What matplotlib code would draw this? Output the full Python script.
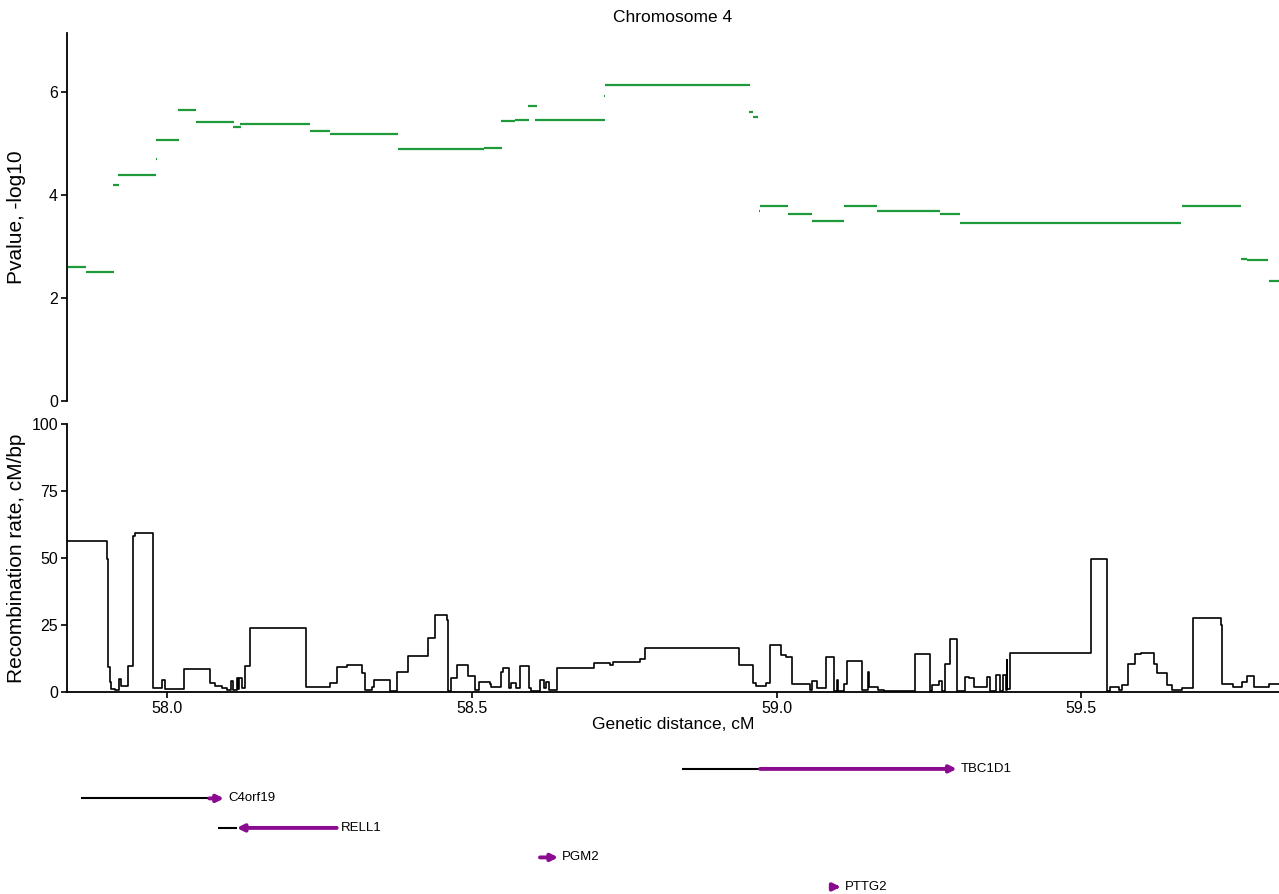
import matplotlib
matplotlib.use("Agg")
import matplotlib.pyplot as plt
import numpy as np

plt.rcParams['font.family'] = ['Liberation Sans', 'DejaVu Sans']

# ---------------- data ----------------
chrom_title = "Chromosome 4"
x_range = (57.835, 59.825)
x_ticks = [58.0, 58.5, 59.0, 59.5]
p_ticks = [0, 2, 4, 6]
rate_ticks = [0, 25, 50, 75, 100]

# association signal: -log10 p-value blocks (start cM, end cM, value)
pv_start = [57.837, 57.866, 57.911, 57.919, 57.981, 57.981, 58.018, 58.047, 58.108,
            58.119, 58.234, 58.267, 58.378, 58.519, 58.547, 58.571, 58.592, 58.604,
            58.7175, 58.718, 58.955, 58.961, 58.9675, 58.9715, 58.973, 59.018, 59.058,
            59.110, 59.165, 59.269, 59.302, 59.6635, 59.665, 59.762, 59.773, 59.8065,
            59.808]
pv_end = [57.866, 57.912, 57.920, 57.981, 57.9825, 58.019, 58.047, 58.109, 58.120,
          58.234, 58.267, 58.378, 58.519, 58.549, 58.571, 58.594, 58.606, 58.718,
          58.719, 58.956, 58.962, 58.969, 58.9685, 58.9725, 59.018, 59.058, 59.111,
          59.165, 59.269, 59.302, 59.664, 59.6645, 59.762, 59.773, 59.807, 59.8075,
          59.83]
pv_value = [2.60, 2.50, 4.19, 4.39, 4.69, 5.06, 5.64, 5.41, 5.31, 5.38, 5.23, 5.17,
            4.88, 4.91, 5.43, 5.46, 5.72, 5.46, 5.92, 6.13, 5.61, 5.51, 5.43, 3.68,
            3.79, 3.63, 3.48, 3.79, 3.68, 3.62, 3.46, 3.57, 3.79, 2.75, 2.73, 2.52,
            2.32]

# recombination rate map: step starts (cM) and rate from that point on
rec_pos = [57.835, 57.900, 57.902, 57.905, 57.908, 57.914, 57.920, 57.923, 57.935,
           57.944, 57.947, 57.977, 57.991, 57.996, 58.027, 58.069, 58.078, 58.089,
           58.097, 58.104, 58.107, 58.114, 58.116, 58.117, 58.122, 58.127, 58.135,
           58.227, 58.267, 58.278, 58.294, 58.319, 58.324, 58.335, 58.339, 58.365,
           58.377, 58.395, 58.428, 58.439, 58.459, 58.461, 58.466, 58.475, 58.493,
           58.505, 58.511, 58.529, 58.531, 58.547, 58.551, 58.561, 58.564, 58.573,
           58.578, 58.593, 58.597, 58.611, 58.619, 58.621, 58.627, 58.640, 58.700,
           58.726, 58.731, 58.775, 58.784, 58.939, 58.962, 58.966, 58.983, 58.989,
           59.007, 59.015, 59.025, 59.055, 59.059, 59.066, 59.081, 59.095, 59.099,
           59.101, 59.110, 59.115, 59.140, 59.150, 59.151, 59.166, 59.177, 59.228,
           59.252, 59.256, 59.267, 59.271, 59.276, 59.284, 59.297, 59.309, 59.316,
           59.324, 59.346, 59.351, 59.361, 59.367, 59.372, 59.376, 59.378, 59.379,
           59.383, 59.516, 59.543, 59.548, 59.562, 59.567, 59.577, 59.588, 59.598,
           59.619, 59.624, 59.641, 59.650, 59.666, 59.684, 59.729, 59.732, 59.750,
           59.765, 59.773, 59.784, 59.808]
rec_rate = [56.2, 49.6, 9.3, 3.5, 1.0, 0.8, 4.7, 2.0, 9.6,
            58.3, 59.3, 1.4, 4.4, 0.9, 8.6, 3.1, 2.0, 1.2,
            0.5, 4.0, 0.5, 5.0, 1.0, 5.0, 1.5, 9.6, 23.8,
            1.6, 3.4, 9.3, 10.0, 6.8, 0.6, 1.9, 4.4, 0.3,
            7.4, 13.3, 19.9, 28.5, 26.7, 0.2, 5.0, 9.9, 5.8,
            0.6, 3.7, 2.9, 1.6, 7.4, 8.7, 1.2, 3.1, 1.2,
            9.6, 1.4, 0.4, 4.4, 1.5, 3.7, 0.5, 8.9, 10.6,
            10.0, 11.2, 12.4, 16.5, 9.8, 3.1, 2.2, 3.1, 17.4,
            13.7, 13.0, 2.9, 0.6, 4.1, 1.2, 12.8, 0.4, 4.4,
            0.2, 2.9, 11.5, 0.5, 7.4, 1.9, 0.6, 0.2, 14.0,
            0.2, 2.5, 4.1, 0.2, 10.3, 19.7, 0.2, 5.6, 5.0,
            1.9, 5.6, 0.2, 6.2, 0.2, 6.2, 0.8, 12.0, 1.0,
            14.3, 49.5, 0.2, 1.9, 0.6, 2.5, 10.3, 13.9, 14.3,
            10.3, 6.8, 2.5, 0.6, 1.5, 27.7, 24.8, 2.9, 1.9,
            3.7, 5.8, 1.9, 2.9]

# gene models (cM): transcript start, coding start/end, strand
gene_names = ["TBC1D1", "C4orf19", "RELL1", "PGM2", "PTTG2"]
gene_tx_start = [58.845, 57.8575, 58.0834, 58.6116, 59.0931]
gene_cds_start = [58.973, 58.0686, 58.1136, 58.6116, 59.0931]
gene_cds_end = [59.296, 58.0928, 58.2778, 58.6416, 59.1053]
gene_strand = ["+", "+", "-", "+", "+"]

# ---------------- styling ----------------
GREEN = "#1e9a3a"
PURPLE = "#8a0a90"
TICK_FS = 11.5
LABEL_FS = 12.5

W, H = 1279, 894
fig = plt.figure(figsize=(W / 100, H / 100), dpi=100)


def box(left, top, right, bottom):
    return [left / W, 1 - bottom / H, (right - left) / W, (bottom - top) / H]


ax_p = fig.add_axes(box(67, 33, 1279, 400.7))
ax_r = fig.add_axes(box(67, 424, 1279, 691.7))
ax_g = fig.add_axes(box(67, 740, 1279, 894))

for ax in (ax_p, ax_r):
    ax.set_xlim(*x_range)
    for side in ("top", "right"):
        ax.spines[side].set_visible(False)
    ax.spines["left"].set_linewidth(1.3)
    ax.spines["bottom"].set_linewidth(1.3)
    ax.tick_params(axis="both", direction="out", length=4, width=1.2,
                   labelsize=TICK_FS, color="black", pad=2.5)

# --- p-value panel ---
ax_p.hlines(pv_value, pv_start, pv_end, colors=GREEN, linewidth=1.6)
ax_p.set_ylim(0, 7.14)
ax_p.set_yticks(p_ticks)
ax_p.spines["bottom"].set_visible(False)
ax_p.set_xticks([])
ax_p.set_ylabel("Pvalue, -log10", fontsize=15)
ax_p.yaxis.set_label_coords(-0.034, 0.5)

# --- recombination panel ---
ax_r.step(np.append(rec_pos, x_range[1]), np.append(rec_rate, rec_rate[-1]),
          where="post", color="black", linewidth=1.2)
ax_r.set_ylim(0, 100)
ax_r.set_yticks(rate_ticks)
ax_r.set_xticks(x_ticks)
ax_r.set_xticklabels([f"{t:.1f}" for t in x_ticks])
ax_r.set_xlabel("Genetic distance, cM", fontsize=LABEL_FS, labelpad=1)
ax_r.set_ylabel("Recombination rate, cM/bp", fontsize=15)
ax_r.yaxis.set_label_coords(-0.034, 0.5)

fig.text(673 / W, 1 - 17 / H, chrom_title, ha="center", va="center", fontsize=LABEL_FS)

# --- gene track ---
ax_g.set_xlim(*x_range)
ax_g.set_ylim(4.24, -0.98)
ax_g.axis("off")
for row, (name, tx0, c0, c1, strand) in enumerate(
        zip(gene_names, gene_tx_start, gene_cds_start, gene_cds_end, gene_strand)):
    if c0 > tx0:
        ax_g.plot([tx0, c0], [row, row], color="black", linewidth=1.5,
                  solid_capstyle="butt")
    tail, head = (c0, c1) if strand == "+" else (c1, c0)
    ax_g.annotate("", xy=(head, row), xytext=(tail, row),
                  arrowprops=dict(arrowstyle="-|>", color=PURPLE, lw=2.8,
                                  mutation_scale=10, shrinkA=0, shrinkB=0))
    ax_g.text(max(c1, tx0) + 0.0065, row, name, ha="left", va="center",
              fontsize=9.5, color="black")

fig.savefig("out.png", dpi=100)
